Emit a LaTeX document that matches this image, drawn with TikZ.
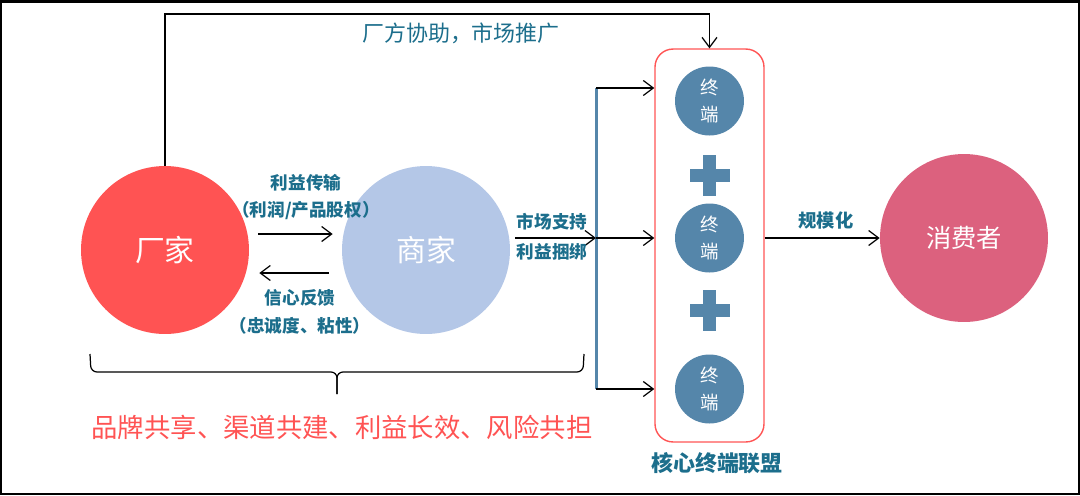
\documentclass[tikz,border=0pt]{standalone}
\usepackage{fontspec}
\setmainfont{Noto Sans CJK SC}
\usetikzlibrary{arrows.meta}

\definecolor{facred}{RGB}{255,83,83}
\definecolor{merblue}{RGB}{180,199,231}
\definecolor{termblue}{RGB}{85,134,170}
\definecolor{conspink}{RGB}{220,97,126}
\definecolor{labteal}{RGB}{28,110,140}
\definecolor{boxred}{RGB}{255,85,85}

\begin{document}
\begin{tikzpicture}[
    x=0.02cm,
    y=-0.02cm,
    party/.style={
        circle,
        minimum size=3.36cm,
        inner sep=0pt,
        text=white,
        font=\fontsize{17}{20}\selectfont
    },
    terminal/.style={
        circle,
        fill=termblue,
        minimum size=1.38cm,
        inner sep=0pt,
        text=white,
        align=center,
        font=\fontsize{10.5}{15}\selectfont
    },
    link/.style={
        draw=black,
        line width=0.7pt,
        -{Straight Barb[length=2mm,width=3mm]}
    },
    tag/.style={
        text=labteal,
        font=\fontsize{10}{12}\selectfont\bfseries
    }
]
\useasboundingbox (0,0) rectangle (1080,495);

% Outer frame
\draw[line width=0.05cm] (1.25,1.25) rectangle (1078.75,493.75);

% Factory, merchant and consumer
\node[party, fill=facred] (fac) at (165,250) {厂家};
\node[party, fill=merblue] (mer) at (426,250) {商家};
\node[party, fill=conspink, minimum size=3.36cm,
      font=\fontsize{14.4}{17}\selectfont] (cons) at (964,238) {消费者};

% Core terminal alliance
\node[draw=boxred, line width=0.8pt, rounded corners=0.36cm,
      minimum width=2.18cm, minimum height=7.86cm] (alliance) at (709.5,245.5) {};
\foreach \ty [count=\i] in {101,238,389}{
    \node[terminal] (term\i) at (709.5,\ty) {终\\端};
}
\foreach \py in {175,310}{
    \fill[termblue] (703,\py-20.5) rectangle (716,\py+20.5);
    \fill[termblue] (689.5,\py-6.5) rectangle (729.5,\py+6.5);
}
\node[tag, font=\fontsize{12.5}{15}\selectfont\bfseries] (alliancelab) at (717,463) {核心终端联盟};

% Distribution bar
\coordinate (bartop) at (596,88);
\coordinate (barmid) at (596,238);
\coordinate (barbot) at (596,389);
\draw[termblue, line width=0.06cm] (bartop) -- (barbot);

% Connectors
\draw[link] (fac.north) -- (fac.north |- 0,14) -- (alliance.north |- 0,14) -- (alliance.north);
\node[tag, font=\fontsize{12.5}{15}\selectfont] (helplab) at (461,33) {厂方协助，市场推广};

\draw[link, shorten <=0.18cm, shorten >=0.18cm]
    ([yshift=0.32cm]fac.east) -- ([yshift=0.32cm]mer.west);
\node[tag] (gainlab) at (306,183) {利益传输};
\node[tag] (gainsub) at (306,211) {（利润/产品股权）};

\draw[link, shorten <=0.26cm, shorten >=0.2cm]
    ([yshift=-0.46cm]mer.west) -- ([yshift=-0.46cm]fac.east);
\node[tag] (trustlab) at (300,298) {信心反馈};
\node[tag] (trustsub) at (300,326) {（忠诚度、粘性）};

\draw[link, shorten <=0.1cm] (mer.east |- barmid) -- (barmid);
\node[tag] (supportlab) at (552,222) {市场支持};
\node[tag] (bindlab) at (552,252) {利益捆绑};

\draw[link] (bartop) -- (bartop -| alliance.west);
\draw[link] (barmid) -- (barmid -| alliance.west);
\draw[link] (barbot) -- (barbot -| alliance.west);

\draw[link] (alliance.east |- cons.west) -- (cons.west);
\node[tag, font=\fontsize{10.4}{12}\selectfont\bfseries] (scalelab) at (826,220) {规模化};

% Shared goals (brace drawn by hand, sharp curls)
\draw[line width=0.7pt, rounded corners=0.12cm]
    (90,354) -- (91,372) -- (337,372) -- (337,394);
\draw[line width=0.7pt, rounded corners=0.12cm]
    (337,394) -- (337,372) -- (583,372) -- (584,354);
\node[text=facred, font=\fontsize{15}{18}\selectfont] (goals) at (342,427)
    {品牌共享、渠道共建、利益长效、风险共担};
\end{tikzpicture}
\end{document}
